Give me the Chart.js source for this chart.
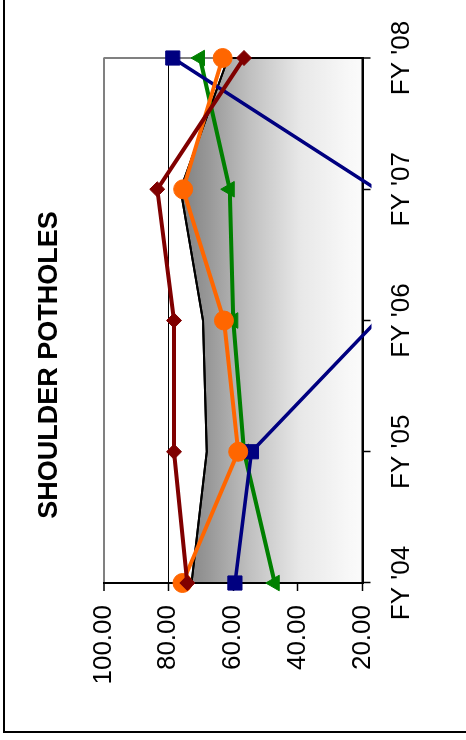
<!DOCTYPE html>
<html>
<head>
<meta charset="utf-8">
<script src="https://cdn.jsdelivr.net/npm/chart.js@4.4.0/dist/chart.umd.min.js"></script>
<style>
html,body{margin:0;padding:0;background:#fff;width:466px;height:740px;overflow:hidden;}
#frame{position:absolute;left:3px;top:-4px;width:480px;height:737px;border-left:2px solid #000;border-bottom:2px solid #000;box-sizing:border-box;}
#wrap{position:absolute;left:0;top:0;width:740px;height:466px;transform-origin:0 0;transform:translate(0px,740px) rotate(-90deg);}
canvas{display:block;}
</style>
</head>
<body>
<div id="frame"></div>
<div id="wrap"><canvas id="c" width="740" height="466"></canvas></div>
<script>
const titleText = 'SHOULDER POTHOLES';
const categories = ["FY '04", "FY '05", "FY '06", "FY '07", "FY '08"];
const valueTicks = [20, 40, 60, 80, 100];
const areaValues   = [72.8, 68.1, 69.3, 76.2, 61.5];
const navyValues   = [59.4, 54.3, 15.5, 15.7, 78.6];
const greenValues  = [47.1, 56.6, 59.9, 61.0, 70.2];
const orangeValues = [75.6, 58.4, 62.8, 75.4, 63.2];
const maroonValues = [74.1, 78.2, 78.2, 83.4, 56.6];

const FONT = '"Liberation Sans", Arial, Helvetica, sans-serif';
const AREA_INDEX = 4;

const titlePlugin = {
  id: 'rotTitle',
  afterDraw(chart) {
    const c = chart.ctx;
    c.save();
    c.font = 'bold 27px ' + FONT;
    c.fillStyle = '#000';
    c.textAlign = 'center';
    c.textBaseline = 'middle';
    c.fillText(titleText, chart.width / 2 + 5, 50);
    c.restore();
  }
};

const areaEdge = {
  id: 'areaEdge',
  afterDatasetDraw(chart, args) {
    if (args.index !== AREA_INDEX) return;
    const pts = args.meta.data;
    const ys = chart.scales.y;
    const base = ys.getPixelForValue(ys.min);
    const c = chart.ctx;
    c.save();
    c.strokeStyle = '#000';
    c.lineWidth = 2;
    c.lineJoin = 'miter';
    c.beginPath();
    c.moveTo(pts[0].x, base);
    pts.forEach(p => c.lineTo(p.x, p.y));
    c.lineTo(pts[pts.length - 1].x, base);
    c.closePath();
    c.stroke();
    c.restore();
  }
};

function lineSet(data, color, style, radius, order, clip, width) {
  return {
    type: 'line', data, borderColor: color, backgroundColor: color,
    pointBackgroundColor: color, pointBorderColor: color, pointBorderWidth: 1,
    borderWidth: width, pointStyle: style, pointRadius: radius, pointHoverRadius: radius,
    fill: false, tension: 0, order, clip
  };
}
const wide = {left: 30, right: 30, top: 30, bottom: 30};

new Chart(document.getElementById('c'), {
  type: 'line',
  data: {
    labels: categories,
    datasets: [
      lineSet(maroonValues, '#800000', 'rectRot', 7.5, 1, wide, 4),
      lineSet(orangeValues, '#FF6600', 'circle', 9.5, 2, wide, 4),
      lineSet(navyValues, '#000080', 'rect', 10, 3, {left: 30, right: 30, top: 30, bottom: 9}, 3.5),
      lineSet(greenValues, '#008000', 'triangle', 9, 4, wide, 4),
      {
        type: 'line', data: areaValues, order: 10, fill: 'start', tension: 0,
        borderColor: '#000', borderWidth: 2, pointRadius: 0, pointHoverRadius: 0,
        backgroundColor: (ctx) => {
          const ch = ctx.chart, ca = ch.chartArea;
          if (!ca) return '#aaaaaa';
          const ys = ch.scales.y;
          const top = ys.getPixelForValue(Math.max(...areaValues));
          const g = ch.ctx.createLinearGradient(0, top, 0, ca.bottom);
          g.addColorStop(0, '#808080');
          g.addColorStop(0.16, '#999999');
          g.addColorStop(0.38, '#c0c0c0');
          g.addColorStop(0.66, '#e8e8e8');
          g.addColorStop(0.93, '#f8f8f8');
          g.addColorStop(1, '#fbfbfb');
          return g;
        }
      }
    ]
  },
  options: {
    responsive: false,
    devicePixelRatio: 1,
    animation: false,
    layout: {padding: {top: 103.5, right: 58, bottom: 0, left: 0}},
    plugins: {legend: {display: false}, tooltip: {enabled: false}, title: {display: false}},
    scales: {
      x: {
        type: 'category', offset: false,
        grid: {
          drawOnChartArea: true,
          color: (c) => c.index === 4 ? '#808080' : 'rgba(0,0,0,0)',
          lineWidth: (c) => c.index === 4 ? 2 : 1,
          tickColor: '#000', tickLength: 8, tickWidth: 1.5
        },
        border: {color: '#000', width: 2},
        ticks: {color: '#000', font: {family: FONT, size: 26}, padding: 16, maxRotation: 0, autoSkip: false},
        afterFit: (s) => { s.height = 103.5; }
      },
      y: {
        min: 20, max: 100,
        afterBuildTicks: (s) => { s.ticks = valueTicks.map(v => ({value: v})); },
        grid: {
          color: (c) => (c.tick && c.tick.value === 100) ? '#808080' : '#000',
          lineWidth: (c) => (c.tick && c.tick.value === 100) ? 2 : 1,
          tickColor: '#000', tickLength: 8, tickWidth: 1.5
        },
        border: {color: '#000', width: 2},
        ticks: {color: '#000', font: {family: FONT, size: 26}, padding: 14, callback: (v) => Number(v).toFixed(2)},
        afterFit: (s) => { s.width = 157; }
      }
    }
  },
  plugins: [titlePlugin, areaEdge]
});
</script>
</body>
</html>
